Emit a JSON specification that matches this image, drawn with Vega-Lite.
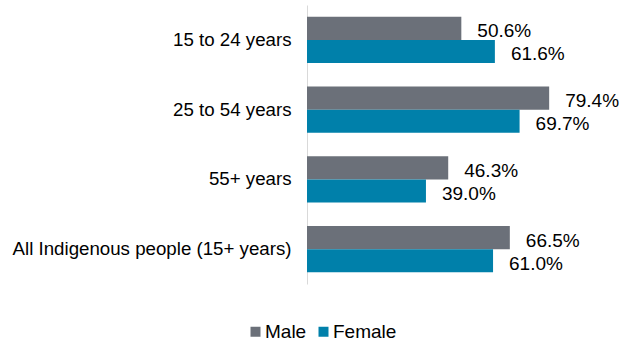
{
  "$schema": "https://vega.github.io/schema/vega-lite/v6.json",
  "width": 305,
  "height": 279,
  "autosize": {"type": "none"},
  "padding": {"left": 307, "top": 5, "right": 17, "bottom": 57},
  "config": {"view": {"stroke": null}, "font": "Liberation Sans"},
  "data": {"values": [
    {"group": "15 to 24 years", "sex": "Male", "value": 0.506},
    {"group": "15 to 24 years", "sex": "Female", "value": 0.616},
    {"group": "25 to 54 years", "sex": "Male", "value": 0.794},
    {"group": "25 to 54 years", "sex": "Female", "value": 0.697},
    {"group": "55+ years", "sex": "Male", "value": 0.463},
    {"group": "55+ years", "sex": "Female", "value": 0.390},
    {"group": "All Indigenous people (15+ years)", "sex": "Male", "value": 0.665},
    {"group": "All Indigenous people (15+ years)", "sex": "Female", "value": 0.610}
  ]},
  "encoding": {
    "y": {"field": "group", "type": "nominal",
      "sort": ["15 to 24 years", "25 to 54 years", "55+ years", "All Indigenous people (15+ years)"],
      "scale": {"paddingInner": 0.34, "paddingOuter": 0.17},
      "axis": {"title": null, "ticks": false, "labelFontSize": 18.7, "labelFont": "Liberation Sans", "labelColor": "#000000", "labelPadding": 16, "labelLimit": 0, "domainColor": "#d9d9d9", "grid": false}},
    "yOffset": {"field": "sex", "type": "nominal", "sort": ["Male", "Female"]},
    "x": {"field": "value", "type": "quantitative", "scale": {"domain": [0, 1]}, "axis": null}
  },
  "layer": [
    {"mark": {"type": "bar"},
     "encoding": {"color": {"field": "sex", "type": "nominal", "sort": ["Male", "Female"],
       "scale": {"domain": ["Male", "Female"], "range": ["#6b7079", "#0080aa"]},
       "legend": {"title": null, "orient": "none", "legendX": -61, "legendY": 317, "direction": "horizontal",
         "labelFontSize": 19, "labelFont": "Liberation Sans", "labelColor": "#000000", "symbolType": "square", "symbolSize": 100,
         "symbolStrokeWidth": 0, "labelOffset": 0, "columnPadding": 7}}}},
    {"mark": {"type": "text", "align": "left", "baseline": "middle", "dx": 16, "dy": 3, "fontSize": 19, "font": "Liberation Sans", "color": "#000000"},
     "encoding": {"text": {"field": "value", "type": "quantitative", "format": ".1%"}}}
  ]
}
